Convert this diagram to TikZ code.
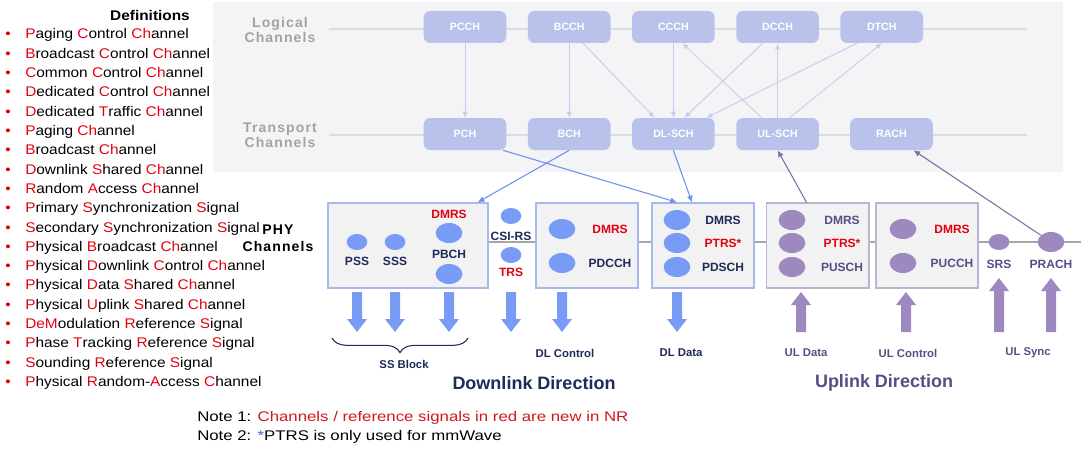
\documentclass[tikz,border=0pt]{standalone}
\usepackage{fontspec}
\setmainfont{Liberation Sans}
\newfontfamily\deffont[FakeStretch=1.1]{Liberation Sans}
\newfontfamily\notefont[FakeStretch=1.2]{Liberation Sans}
\newfontfamily\spacedfont[LetterSpace=8]{Liberation Sans}
\usepackage{xcolor}
\usetikzlibrary{positioning, arrows.meta, shapes.geometric, decorations.pathreplacing, calc}

\definecolor{defred}{HTML}{E3000F}
\definecolor{notered}{HTML}{D0181E}
\definecolor{noteblue}{HTML}{3E63D8}
\definecolor{panelbg}{HTML}{F4F3F6}
\definecolor{chanfill}{HTML}{B8C2EB}
\definecolor{lblgray}{HTML}{A3A3A3}
\definecolor{rulegray}{HTML}{DCDCDE}
\definecolor{dlfaint}{HTML}{C4CDF3}
\definecolor{ulfaint}{HTML}{D4CEDC}
\definecolor{dlblue}{HTML}{789BF6}
\definecolor{ulpurple}{HTML}{9D88BF}
\definecolor{dlline}{HTML}{6E8FF0}
\definecolor{ulline}{HTML}{7F6FA2}
\definecolor{boxfill}{HTML}{F2F2F3}
\definecolor{dledge}{HTML}{A9B9F0}
\definecolor{uledge}{HTML}{BFB2D2}
\definecolor{navy}{HTML}{1E2A58}
\definecolor{ulink}{HTML}{5C4B86}
\definecolor{phyline}{HTML}{A6A6A6}

\newcommand{\R}[1]{\textcolor{defred}{#1}}

\tikzset{
  dnarr/.pic={\fill[dlblue] (-5,0) -- (5,0) -- (5,27) -- (10,27) -- (0,40) -- (-10,27) -- (-5,27) -- cycle;},
  uparr/.pic={\fill[ulpurple] (-5,0) -- (5,0) -- (5,{-#1+13}) -- (10,{-#1+13}) -- (0,-#1) -- (-10,{-#1+13}) -- (-5,{-#1+13}) -- cycle;}
}

\begin{document}
\begin{tikzpicture}[x=0.75pt, y=-0.75pt,
    chan/.style={rectangle, rounded corners=5pt, fill=chanfill, text=white,
                 font=\fontsize{8}{9}\selectfont\bfseries, minimum width=62pt, minimum height=24pt, inner sep=0pt},
    layerlbl/.style={align=center, font=\spacedfont\fontsize{10.5}{11.5}\selectfont\bfseries, text=lblgray},
    phybox/.style={rectangle, draw=dledge, fill=boxfill, line width=1pt, inner sep=0pt, minimum height=63.75pt},
    blob/.style={ellipse, fill=dlblue, minimum width=20pt, minimum height=15pt, inner sep=0pt},
    sblob/.style={blob, minimum width=15.5pt, minimum height=12pt},
    ublob/.style={blob, fill=ulpurple},
    lbl/.style={font=\fontsize{9}{10}\selectfont\bfseries, text=navy, inner sep=1pt},
    ulbl/.style={lbl, text=ulink},
    rlbl/.style={lbl, text=defred},
    foot/.style={lbl, font=\fontsize{8.5}{10}\selectfont\bfseries},
    ufoot/.style={foot, text=ulink},
    dirlbl/.style={font=\fontsize{13.5}{15}\selectfont\bfseries},
    faint/.style={-{Latex[length=4.5pt, width=4pt]}, draw=dlfaint, line width=0.7pt},
    ufaint/.style={faint, draw=ulfaint},
    dlarr/.style={-{Latex[length=5pt, width=4.5pt]}, draw=dlline, line width=0.8pt},
    ularr/.style={dlarr, draw=ulline},
    defn/.style={anchor=base west, inner sep=0pt, font=\deffont\fontsize{10.5}{12}\selectfont},
    note/.style={anchor=west, inner sep=0pt, font=\notefont\fontsize{10.5}{12}\selectfont}
  ]
  \useasboundingbox (0,0) rectangle (1081,453);

  % definitions
  \node[defn, anchor=base, font=\deffont\fontsize{10.5}{12}\selectfont\bfseries] (defhead) at (150,21) {Definitions};
  \foreach \t [count=\i from 0] in {
      {\R{P}aging \R{C}ontrol \R{Ch}annel},
      {\R{B}roadcast \R{C}ontrol \R{Ch}annel},
      {\R{C}ommon \R{C}ontrol \R{Ch}annel},
      {\R{D}edicated \R{C}ontrol \R{Ch}annel},
      {\R{D}edicated \R{T}raffic \R{Ch}annel},
      {\R{P}aging \R{Ch}annel},
      {\R{B}roadcast \R{Ch}annel},
      {\R{D}ownlink \R{S}hared \R{Ch}annel},
      {\R{R}andom \R{A}ccess \R{Ch}annel},
      {\R{P}rimary \R{S}ynchronization \R{S}ignal},
      {\R{S}econdary \R{S}ynchronization \R{S}ignal},
      {\R{P}hysical \R{B}roadcast \R{Ch}annel},
      {\R{P}hysical \R{D}ownlink \R{C}ontrol \R{Ch}annel},
      {\R{P}hysical \R{D}ata \R{S}hared \R{Ch}annel},
      {\R{P}hysical \R{U}plink \R{S}hared \R{Ch}annel},
      {\R{De}\R{M}odulation \R{R}eference \R{S}ignal},
      {\R{P}hase \R{T}racking \R{R}eference \R{S}ignal},
      {\R{S}ounding \R{R}eference \R{S}ignal},
      {\R{P}hysical \R{R}andom-\R{A}ccess \R{C}hannel}}{
    \node[defn, text=defred] (bul\i) at (5,{39+19.3*\i}) {\textbullet};
    \node[defn] (def\i) at (25,{39+19.3*\i}) {\t};
  }

  % logical / transport panel
  \fill[panelbg] (213,2) rectangle (1063,172);
  \coordinate (lgL) at (329,29);  \coordinate (lgR) at (1027,29);
  \coordinate (trL) at (329,135); \coordinate (trR) at (1027,135);
  \draw[rulegray, line width=1pt] (lgL) -- (lgR);
  \draw[rulegray, line width=1pt] (trL) -- (trR);
  \node[layerlbl] (lglbl) at (280,30) {Logical\\Channels};
  \node[layerlbl] (trlbl) at (280,135) {Transport\\Channels};

  \node[chan] (pcch) at (465,27) {PCCH};
  \node[chan, right=15.75pt of pcch] (bcch) {BCCH};
  \node[chan, right=15.75pt of bcch] (ccch) {CCCH};
  \node[chan, right=15.75pt of ccch] (dcch) {DCCH};
  \node[chan, right=15.75pt of dcch] (dtch) {DTCH};
  \node[chan] (pch) at (465,134) {PCH};
  \node[chan, right=15.75pt of pch] (bch) {BCH};
  \node[chan, right=15.75pt of bch] (dlsch) {DL-SCH};
  \node[chan, right=15.75pt of dlsch] (ulsch) {UL-SCH};
  \node[chan, right=23pt of ulsch] (rach) {RACH};

  \draw[faint] (pcch) -- (pch);
  \draw[faint] (bcch) -- (bch);
  \draw[faint] ($(bcch.south)+(14,0)$) -- ($(dlsch.north)+(-19,0)$);
  \draw[faint] (ccch) -- (dlsch);
  \draw[faint] ($(dcch.south)+(-15,0)$) -- ($(dlsch.north)+(11,0)$);
  \draw[faint] ($(dtch.south)+(-25,0)$) -- ($(dlsch.north)+(33,0)$);
  \draw[ufaint] ($(ulsch.north)+(-16,0)$) -- ($(ccch.south)+(9,0)$);
  \draw[ufaint] (ulsch) -- (dcch);
  \draw[ufaint] ($(ulsch.north)+(12,0)$) -- (dtch.south);

  % PHY channels
  \node[align=center, font=\spacedfont\fontsize{10.5}{12.5}\selectfont\bfseries] (phylbl) at (278,238) {PHY\\Channels};
  \coordinate (phyL) at (488,242);
  \coordinate (phyR) at (1081,242);
  \draw[phyline, line width=1pt] (phyL) -- (phyR);
  \node[phybox, minimum width=120pt] (ssb) at (408,245.5) {};
  \node[phybox, minimum width=76.5pt] (dlc) at (587,245.5) {};
  \node[phybox, minimum width=76.5pt] (dld) at (703,245.5) {};
  \node[phybox, minimum width=77pt, draw=uledge] (uld) at (817.5,245.5) {};
  \node[phybox, minimum width=76.5pt, draw=uledge] (ulc) at (927,245.5) {};

  \node[sblob] (pss) at (357,242) {};
  \node[lbl] (psslbl) at (357,261) {PSS};
  \node[sblob] (sss) at (395,242) {};
  \node[lbl] (ssslbl) at (395,261) {SSS};
  \node[rlbl] (pbdmrs) at (449,214) {DMRS};
  \node[blob] (pbch1) at (449,233) {};
  \node[lbl] (pbchlbl) at (449,254) {PBCH};
  \node[blob] (pbch2) at (449,274) {};

  \node[sblob] (csi) at (511,216) {};
  \node[lbl] (csilbl) at (511,236) {CSI-RS};
  \node[sblob] (trs) at (511,255) {};
  \node[rlbl] (trslbl) at (511,272) {TRS};

  \node[blob] (dlc1) at (562,229) {};
  \node[rlbl] (dlcdmrs) at (610,229) {DMRS};
  \node[blob] (dlc2) at (562,263) {};
  \node[lbl] (pdcch) at (610,263) {PDCCH};

  \node[blob] (dld1) at (677,220) {};
  \node[blob] (dld2) at (677,243) {};
  \node[blob] (dld3) at (677,267) {};
  \node[lbl] (dlddmrs) at (723,220) {DMRS};
  \node[rlbl] (dldptrs) at (723,243) {PTRS*};
  \node[lbl] (pdsch) at (723,267) {PDSCH};

  \node[ublob] (uld1) at (792,220) {};
  \node[ublob] (uld2) at (792,243) {};
  \node[ublob] (uld3) at (792,267) {};
  \node[ulbl] (uldmrs) at (842,220) {DMRS};
  \node[rlbl] (ulptrs) at (842,243) {PTRS*};
  \node[ulbl] (pusch) at (842,267) {PUSCH};

  \node[ublob] (ulc1) at (903,229) {};
  \node[rlbl] (ulcdmrs) at (952,229) {DMRS};
  \node[ublob] (ulc2) at (903,263) {};
  \node[ulbl] (pucch) at (952,263) {PUCCH};

  \node[ublob, minimum width=15.5pt, minimum height=12pt] (srs) at (999,242) {};
  \node[ulbl] (srslbl) at (999,264) {SRS};
  \node[ublob] (prach) at (1051,242) {};
  \node[ulbl] (prachlbl) at (1051,264) {PRACH};

  \draw[dlarr] (bch.south) -- ($(ssb.north east)+(-11,0)$);
  \draw[dlarr] ($(pch.south)+(38,0)$) -- ($(dld.north)+(-26,0)$);
  \draw[dlarr] (dlsch.south) -- ($(dld.north)+(-11,0)$);
  \draw[ularr] ($(uld.north)+(-11,0)$) -- (ulsch.south);
  \draw[ularr] (prach) -- ($(rach.south)+(22,0)$);

  % block arrows
  \foreach \x in {357, 395, 449, 511, 562, 677}
    \pic at (\x,292) {dnarr};
  \pic at (801,332) {uparr=40};
  \pic at (906,332) {uparr=40};
  \pic at (999,332) {uparr=54};
  \pic at (1051,332) {uparr=54};

  \coordinate (brL) at (332,338);
  \coordinate (brR) at (468,338);
  \draw[navy, line width=0.8pt, decorate, decoration={brace, mirror, amplitude=11pt}] (brL) -- (brR);
  \node[foot] (ssblk) at (404,364) {SS Block};
  \node[foot] (dlctl) at (565,353) {DL Control};
  \node[foot] (dldat) at (681,353) {DL Data};
  \node[ufoot] (uldat) at (806,353) {UL Data};
  \node[ufoot] (ulctl) at (908,353) {UL Control};
  \node[ufoot] (ulsync) at (1028,353) {UL Sync};
  \node[dirlbl, text=navy] (dldir) at (534,383) {Downlink Direction};
  \node[dirlbl, text=ulink] (uldir) at (884,383) {Uplink Direction};

  % notes
  \node[note] (note1) at (197,418) {Note 1: \textcolor{notered}{Channels / reference signals in red are new in NR}};
  \node[note] (note2) at (197,437) {Note 2: \textcolor{noteblue}{*}PTRS is only used for mmWave};
\end{tikzpicture}
\end{document}
